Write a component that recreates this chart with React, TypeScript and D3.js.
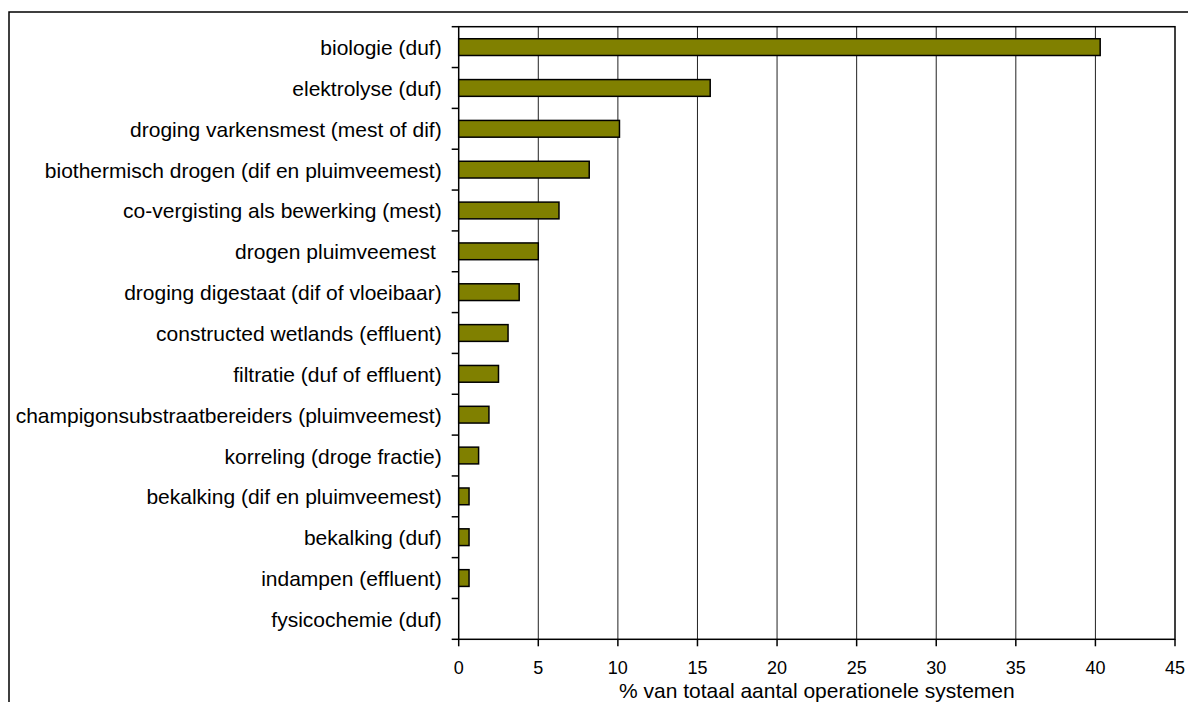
import React, { useRef, useEffect } from "react";
import * as d3 from "d3";

const categories = [
  "biologie (duf)",
  "elektrolyse (duf)",
  "droging varkensmest (mest of dif)",
  "biothermisch drogen (dif en pluimveemest)",
  "co-vergisting als bewerking (mest)",
  "drogen pluimveemest ",
  "droging digestaat (dif of vloeibaar)",
  "constructed wetlands (effluent)",
  "filtratie (duf of effluent)",
  "champigonsubstraatbereiders (pluimveemest)",
  "korreling (droge fractie)",
  "bekalking (dif en pluimveemest)",
  "bekalking (duf)",
  "indampen (effluent)",
  "fysicochemie (duf)",
];

const shares = [40.3, 15.8, 10.1, 8.2, 6.3, 5.0, 3.8, 3.1, 2.5, 1.9, 1.25, 0.65, 0.65, 0.65, 0];

const xTicks = [0, 5, 10, 15, 20, 25, 30, 35, 40, 45];
const xTitle = "% van totaal aantal operationele systemen";

const App = () => {
  const chartRef = useRef<SVGSVGElement>(null);

  const width = 1188,
    height = 702,
    plotLeft = 458.7,
    plotRight = 1175,
    plotTop = 26.7,
    plotBottom = 639.3;

  useEffect(() => {
    if (!chartRef.current) return;
    const svg = d3.select(chartRef.current);
    svg.selectAll("*").remove();

    const x = d3.scaleLinear().domain([0, 45]).range([plotLeft, plotRight]);
    const y = d3
      .scaleBand<string>()
      .domain(categories)
      .range([plotTop, plotBottom])
      .paddingInner(0.59)
      .paddingOuter(0.295);

    // outer frame (only top and left visible)
    svg
      .append("path")
      .attr("d", `M9,${height} L9,12 L${width},12`)
      .attr("fill", "none")
      .attr("stroke", "#000")
      .attr("stroke-width", 1.5);

    // vertical gridlines
    svg
      .append("g")
      .selectAll("line")
      .data(xTicks.slice(1, -1))
      .join("line")
      .attr("x1", (d) => x(d))
      .attr("x2", (d) => x(d))
      .attr("y1", plotTop)
      .attr("y2", plotBottom)
      .attr("stroke", "#222")
      .attr("stroke-width", 1);

    // plot border
    svg
      .append("rect")
      .attr("x", plotLeft)
      .attr("y", plotTop)
      .attr("width", plotRight - plotLeft)
      .attr("height", plotBottom - plotTop)
      .attr("fill", "none")
      .attr("stroke", "#000")
      .attr("stroke-width", 1.5);

    // bars
    svg
      .append("g")
      .selectAll("rect")
      .data(categories)
      .join("rect")
      .attr("x", x(0))
      .attr("y", (d) => y(d)!)
      .attr("width", (d, i) => x(shares[i]) - x(0))
      .attr("height", y.bandwidth())
      .attr("fill", "#808000")
      .attr("stroke", "#000")
      .attr("stroke-width", (d, i) => (shares[i] > 0 ? 1.5 : 0));

    // y axis ticks at band boundaries
    const step = y.step();
    const boundaries = d3.range(categories.length + 1).map((i) => plotTop + i * step);
    svg
      .append("g")
      .selectAll("line")
      .data(boundaries)
      .join("line")
      .attr("x1", plotLeft - 7)
      .attr("x2", plotLeft)
      .attr("y1", (d) => d)
      .attr("y2", (d) => d)
      .attr("stroke", "#000")
      .attr("stroke-width", 1.5);

    // y labels
    svg
      .append("g")
      .selectAll("text")
      .data(categories)
      .join("text")
      .attr("x", plotLeft - 17)
      .attr("y", (d) => y(d)! + y.bandwidth() / 2)
      .attr("dy", "0.38em")
      .attr("text-anchor", "end")
      .style("white-space", "pre")
      .style("font", "21px 'Liberation Sans', Arial, sans-serif")
      .attr("fill", "#000")
      .text((d) => d);

    // x ticks
    svg
      .append("g")
      .selectAll("line")
      .data(xTicks)
      .join("line")
      .attr("x1", (d) => x(d))
      .attr("x2", (d) => x(d))
      .attr("y1", plotBottom)
      .attr("y2", plotBottom + 7)
      .attr("stroke", "#000")
      .attr("stroke-width", 1.5);

    svg
      .append("g")
      .selectAll("text")
      .data(xTicks)
      .join("text")
      .attr("x", (d) => x(d))
      .attr("y", 674)
      .attr("text-anchor", "middle")
      .style("font", "18px 'Liberation Sans', Arial, sans-serif")
      .attr("fill", "#000")
      .text((d) => d);

    svg
      .append("text")
      .attr("x", (plotLeft + plotRight) / 2)
      .attr("y", 698)
      .attr("text-anchor", "middle")
      .style("font", "21px 'Liberation Sans', Arial, sans-serif")
      .attr("fill", "#000")
      .text(xTitle);
  }, []);

  return (
    <svg
      ref={chartRef}
      width={width}
      height={height}
      viewBox={`0 0 ${width} ${height}`}
      style={{ position: "absolute", left: 0, top: 0, background: "#fff" }}
    ></svg>
  );
};

export default App;
